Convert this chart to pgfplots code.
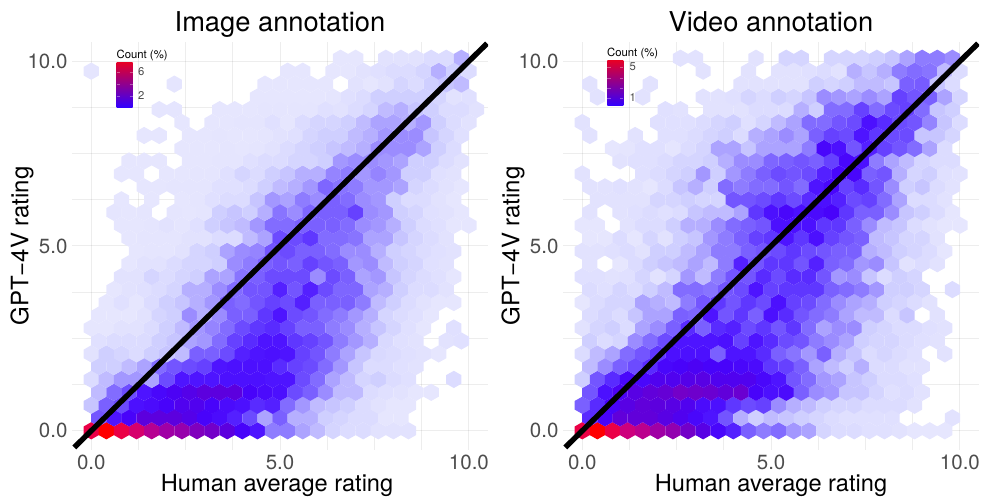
\documentclass[border=0pt]{standalone}
\usepackage{fontspec}
\setmainfont{TeX Gyre Heros}
\usepackage{pgfplots}
\pgfplotsset{compat=1.18}
\pgfdeclareplotmark{hex}{%
  \pgfpathmoveto{\pgfqpoint{0pt}{8.62pt}}%
  \pgfpathlineto{\pgfqpoint{7.62pt}{4.3pt}}%
  \pgfpathlineto{\pgfqpoint{7.62pt}{-4.3pt}}%
  \pgfpathlineto{\pgfqpoint{0pt}{-8.62pt}}%
  \pgfpathlineto{\pgfqpoint{-7.62pt}{-4.3pt}}%
  \pgfpathlineto{\pgfqpoint{-7.62pt}{4.3pt}}%
  \pgfpathclose\pgfusepathqfill}
\definecolor{barlo}{RGB}{50,0,255}
\definecolor{barhi}{RGB}{228,0,40}
\definecolor{ticktxt}{RGB}{77,77,77}
\pgfplotsset{
  colormap={hexc}{rgb255(0pt)=(240,240,255) rgb255(12pt)=(230,230,254) rgb255(20pt)=(220,220,255) rgb255(30pt)=(207,207,255) rgb255(40pt)=(192,187,255) rgb255(50pt)=(172,163,255) rgb255(60pt)=(155,140,255) rgb255(80pt)=(130,108,255) rgb255(100pt)=(115,85,255) rgb255(130pt)=(95,55,255) rgb255(160pt)=(78,20,255) rgb255(200pt)=(72,3,250) rgb255(250pt)=(92,0,222) rgb255(300pt)=(115,0,200) rgb255(400pt)=(160,0,165) rgb255(500pt)=(205,0,125) rgb255(600pt)=(235,0,70) rgb255(700pt)=(255,0,0)},
  hexframe/.style={anchor=south west, scale only axis, width=416pt, height=408pt,
    xmin=-0.51, xmax=10.505, ymin=-0.52, ymax=10.52},
  hexpanel/.style={hexframe,
    colormap name=hexc, point meta min=0, point meta max=7,
    axis on top, axis line style={draw=none}, major tick length=0pt,
    xtick={0,1.25,2.5,3.75,5,6.25,7.5,8.75,10}, ytick={0,1.25,2.5,3.75,5,6.25,7.5,8.75,10},
    xticklabels={0.0,,,,5.0,,,,10.0}, yticklabels={0.0,,,,5.0,,,,10.0},
    grid=major, grid style={black, opacity=0.07, line width=1pt},
    tick label style={text=ticktxt, font=\fontsize{20.5}{24}\selectfont},
    xticklabel style={yshift=-1pt}, yticklabel style={xshift=-1pt},
    x label style={font=\fontsize{23.6}{28}\selectfont},
    y label style={font=\fontsize{24}{28}\selectfont, at={(axis description cs:-0.12,0.5)}, anchor=center, rotate=0},
    title style={font=\fontsize{27.3}{32}\selectfont, at={(axis description cs:0.5,1.0098)}, anchor=base},
    xlabel={Human average rating}, ylabel={GPT−4V rating},
  },
  hx/.style={scatter, only marks, mark=hex, point meta=explicit, scatter/use mapped color={draw=none, fill=mapped color}},
  diag/.style={black, line width=5.4pt, line cap=butt},
}
\begin{document}
\begin{tikzpicture}[x=1pt,y=1pt]
\path[use as bounding box] (0,0) rectangle (981,500);
\begin{axis}[hexpanel, at={(72pt,50pt)}, title={Image annotation}, x label style={at={(axis description cs:0.493,-0.086)}, anchor=center}]
\addplot[hx] coordinates {
(0,0)[6](.4,0)[7](.8,0)[6](1.2,0)[5.3](1.6,0)[4.5](2,0)[4](2.4,0)[3.8](2.8,0)[3.3](3.2,0)[3](3.6,0)[2.5](4,0)[2](4.4,0)[1.6](4.8,0)[.7](5.2,0)[.7](5.6,0)[.5](6,0)[.4](6.4,0)[.25](6.8,0)[.2](7.2,0)[.2](7.6,0)[.15](8,0)[.15](8.4,0)[.15]
(.2,.35)[1](.6,.35)[1.6](1,.35)[2](1.4,.35)[2.5](1.8,.35)[2.5](2.2,.35)[2.5](2.6,.35)[2.3](3,.35)[2](3.4,.35)[1.8](3.8,.35)[1.5](4.2,.35)[1.1](4.6,.35)[.5](5,.35)[.9](5.4,.35)[.45](5.8,.35)[.45](6.2,.35)[.3](6.6,.35)[.25](7,.35)[.2](7.4,.35)[.2](7.8,.35)[.12](8.2,.35)[.12]
(0,.69)[.35](.4,.69)[.9](.8,.69)[1.1](1.2,.69)[1.7](1.6,.69)[1.8](2,.69)[2](2.4,.69)[2.2](2.8,.69)[2.2](3.2,.69)[2](3.6,.69)[1.8](4,.69)[1.7](4.4,.69)[1.4](4.8,.69)[1.5](5.2,.69)[.8](5.6,.69)[.55](6,.69)[.4](6.4,.69)[.35](6.8,.69)[.3](7.2,.69)[.2](7.6,.69)[.15](8,.69)[.12](8.4,.69)[.12]
(.2,1.04)[.4](.6,1.04)[.8](1,1.04)[1.1](1.4,1.04)[1.6](1.8,1.04)[1.9](2.2,1.04)[2.1](2.6,1.04)[2.3](3,1.04)[2.5](3.4,1.04)[2.5](3.8,1.04)[2.5](4.2,1.04)[2](4.6,1.04)[1.8](5,1.04)[1.7](5.4,1.04)[1.1](5.8,1.04)[.9](6.2,1.04)[.6](6.6,1.04)[.4](7,1.04)[.4](7.4,1.04)[.2](7.8,1.04)[.17](8.2,1.04)[.15](8.6,1.04)[.12](9,1.04)[.12]
(0,1.39)[.2](.4,1.39)[.4](.8,1.39)[.55](1.2,1.39)[.55](1.6,1.39)[.5](2,1.39)[1.1](2.4,1.39)[1.6](2.8,1.39)[1.6](3.2,1.39)[1.6](3.6,1.39)[1.7](4,1.39)[1.7](4.4,1.39)[1.7](4.8,1.39)[1.6](5.2,1.39)[1.6](5.6,1.39)[1.1](6,1.39)[.8](6.4,1.39)[.5](6.8,1.39)[.4](7.2,1.39)[.25](7.6,1.39)[.3](8,1.39)[.2](8.4,1.39)[.17](9.6,1.39)[.2]
(.2,1.74)[.3](.6,1.74)[.3](1,1.74)[.4](1.4,1.74)[.5](1.8,1.74)[.8](2.2,1.74)[1](2.6,1.74)[1.1](3,1.74)[1.2](3.4,1.74)[1.6](3.8,1.74)[1.7](4.2,1.74)[1.7](4.6,1.74)[1.7](5,1.74)[1.4](5.4,1.74)[1.2](5.8,1.74)[1.1](6.2,1.74)[.8](6.6,1.74)[.55](7,1.74)[.35](7.4,1.74)[.2](7.8,1.74)[.2](8.2,1.74)[.17](8.6,1.74)[.15]
(0,2.08)[.15](.4,2.08)[.3](.8,2.08)[.25](1.2,2.08)[.2](1.6,2.08)[.3](2,2.08)[.35](2.4,2.08)[.4](2.8,2.08)[.9](3.2,2.08)[.9](3.6,2.08)[1.1](4,2.08)[1.5](4.4,2.08)[1.6](4.8,2.08)[1.7](5.2,2.08)[1.6](5.6,2.08)[1.2](6,2.08)[1](6.4,2.08)[.7](6.8,2.08)[.5](7.2,2.08)[.35](7.6,2.08)[.22](8,2.08)[.2](8.4,2.08)[.17](8.8,2.08)[.15](9.2,2.08)[.12]
(.2,2.43)[.17](.6,2.43)[.2](1,2.43)[.2](1.4,2.43)[.2](1.8,2.43)[.3](2.2,2.43)[.35](2.6,2.43)[.5](3,2.43)[.55](3.4,2.43)[.8](3.8,2.43)[1.2](4.2,2.43)[1.4](4.6,2.43)[1.6](5,2.43)[1.6](5.4,2.43)[1.3](5.8,2.43)[1.2](6.2,2.43)[1](6.6,2.43)[.7](7,2.43)[.55](7.4,2.43)[.45](7.8,2.43)[.22](8.2,2.43)[.17](8.6,2.43)[.15](9.4,2.43)[.15](9.8,2.43)[.17]
(0,2.78)[.12](.4,2.78)[.12](.8,2.78)[.15](1.2,2.78)[.15](1.6,2.78)[.2](2,2.78)[.3](2.4,2.78)[.4](2.8,2.78)[.55](3.2,2.78)[.65](3.6,2.78)[.8](4,2.78)[1.1](4.4,2.78)[1.3](4.8,2.78)[1.4](5.2,2.78)[1.2](5.6,2.78)[.9](6,2.78)[.9](6.4,2.78)[.7](6.8,2.78)[.6](7.2,2.78)[.45](7.6,2.78)[.35](8,2.78)[.25](8.4,2.78)[.17](8.8,2.78)[.12](9.6,2.78)[.17]
(.2,3.13)[.12](.6,3.13)[.12](1,3.13)[.12](1.4,3.13)[.15](1.8,3.13)[.25](2.2,3.13)[.3](2.6,3.13)[.6](3,3.13)[.45](3.4,3.13)[.6](3.8,3.13)[.9](4.2,3.13)[.9](4.6,3.13)[1.3](5,3.13)[1.6](5.4,3.13)[1.1](5.8,3.13)[1](6.2,3.13)[.8](6.6,3.13)[.7](7,3.13)[.55](7.4,3.13)[.45](7.8,3.13)[.25](8.2,3.13)[.2](8.6,3.13)[.17](9,3.13)[.12]
(.4,3.47)[.12](.8,3.47)[.17](1.2,3.47)[.12](1.6,3.47)[.2](2,3.47)[.3](2.4,3.47)[.35](2.8,3.47)[.45](3.2,3.47)[.55](3.6,3.47)[.9](4,3.47)[.8](4.4,3.47)[1](4.8,3.47)[1.2](5.2,3.47)[1.1](5.6,3.47)[1.5](6,3.47)[.9](6.4,3.47)[.9](6.8,3.47)[.9](7.2,3.47)[.7](7.6,3.47)[.4](8,3.47)[.3](8.4,3.47)[.2](8.8,3.47)[.15](9.2,3.47)[.12](9.6,3.47)[.12]
(.6,3.82)[.12](1,3.82)[.15](1.4,3.82)[.17](1.8,3.82)[.2](2.2,3.82)[.25](2.6,3.82)[.45](3,3.82)[.45](3.4,3.82)[.6](3.8,3.82)[.8](4.2,3.82)[1](4.6,3.82)[1](5,3.82)[1.5](5.4,3.82)[1](5.8,3.82)[1.5](6.2,3.82)[1.1](6.6,3.82)[.85](7,3.82)[.85](7.4,3.82)[.5](7.8,3.82)[.45](8.2,3.82)[.3](8.6,3.82)[.2](9,3.82)[.2](9.4,3.82)[.15]
(.8,4.17)[.15](1.2,4.17)[.15](1.6,4.17)[.25](2,4.17)[.2](2.4,4.17)[.25](2.8,4.17)[.3](3.2,4.17)[.5](3.6,4.17)[.5](4,4.17)[.75](4.4,4.17)[.9](4.8,4.17)[1.1](5.2,4.17)[1.1](5.6,4.17)[1.1](6,4.17)[.6](6.4,4.17)[1.1](6.8,4.17)[.9](7.2,4.17)[.5](7.6,4.17)[.55](8,4.17)[.35](8.4,4.17)[.25](8.8,4.17)[.2](9.2,4.17)[.17](9.6,4.17)[.12]
(1,4.52)[.12](1.4,4.52)[.15](1.8,4.52)[.15](2.2,4.52)[.2](2.6,4.52)[.25](3,4.52)[.25](3.4,4.52)[.3](3.8,4.52)[.6](4.2,4.52)[.7](4.6,4.52)[.9](5,4.52)[1](5.4,4.52)[.9](5.8,4.52)[1.2](6.2,4.52)[1](6.6,4.52)[.9](7,4.52)[.55](7.4,4.52)[.6](7.8,4.52)[.4](8.2,4.52)[.3](8.6,4.52)[.25](9,4.52)[.17](9.4,4.52)[.15]
(1.2,4.86)[.12](1.6,4.86)[.13](2,4.86)[.13](2.4,4.86)[.15](2.8,4.86)[.25](3.2,4.86)[.3](3.6,4.86)[.5](4,4.86)[.6](4.4,4.86)[.65](4.8,4.86)[1](5.2,4.86)[1.1](5.6,4.86)[.9](6,4.86)[.9](6.4,4.86)[.8](6.8,4.86)[.6](7.2,4.86)[.6](7.6,4.86)[.45](8,4.86)[.3](8.4,4.86)[.25](8.8,4.86)[.2](9.2,4.86)[.17](9.6,4.86)[.15]
(1,5.21)[.12](1.4,5.21)[.13](1.8,5.21)[.13](2.2,5.21)[.13](2.6,5.21)[.15](3,5.21)[.15](3.4,5.21)[.2](3.8,5.21)[.2](4.2,5.21)[.4](4.6,5.21)[.5](5,5.21)[1.1](5.4,5.21)[1.1](5.8,5.21)[1.3](6.2,5.21)[.8](6.6,5.21)[.8](7,5.21)[.75](7.4,5.21)[.5](7.8,5.21)[.5](8.2,5.21)[.35](8.6,5.21)[.25](9,5.21)[.2](9.4,5.21)[.15]
(.8,5.56)[.12](1.2,5.56)[.12](1.6,5.56)[.13](2,5.56)[.15](2.4,5.56)[.13](2.8,5.56)[.17](3.2,5.56)[.3](3.6,5.56)[.35](4,5.56)[.4](4.4,5.56)[.55](4.8,5.56)[.8](5.2,5.56)[.8](5.6,5.56)[.9](6,5.56)[.9](6.4,5.56)[.9](6.8,5.56)[.8](7.2,5.56)[.6](7.6,5.56)[.55](8,5.56)[.45](8.4,5.56)[.3](8.8,5.56)[.2](9.2,5.56)[.17](9.6,5.56)[.12](10,5.56)[.12]
(.6,5.91)[.13](1,5.91)[.12](1.4,5.91)[.13](2.2,5.91)[.13](2.6,5.91)[.12](3,5.91)[.13](3.4,5.91)[.3](3.8,5.91)[.35](4.2,5.91)[.3](4.6,5.91)[.45](5,5.91)[.75](5.4,5.91)[.6](5.8,5.91)[.85](6.2,5.91)[.9](6.6,5.91)[.9](7,5.91)[1.2](7.4,5.91)[.6](7.8,5.91)[.55](8.2,5.91)[.3](8.6,5.91)[.25](9,5.91)[.17](9.4,5.91)[.15](9.8,5.91)[.12]
(.8,6.25)[.12](1.6,6.25)[.12](2.4,6.25)[.12](2.8,6.25)[.13](3.2,6.25)[.17](3.6,6.25)[.2](4,6.25)[.2](4.4,6.25)[.35](4.8,6.25)[.55](5.2,6.25)[.5](5.6,6.25)[.7](6,6.25)[.6](6.4,6.25)[.9](6.8,6.25)[.8](7.2,6.25)[.6](7.6,6.25)[.55](8,6.25)[.3](8.4,6.25)[.2](8.8,6.25)[.2](9.2,6.25)[.15](9.6,6.25)[.12]
(1.4,6.6)[.12](1.8,6.6)[.12](2.2,6.6)[.13](2.6,6.6)[.13](3,6.6)[.13](3.4,6.6)[.17](3.8,6.6)[.17](4.2,6.6)[.2](4.6,6.6)[.3](5,6.6)[.4](5.4,6.6)[.45](5.8,6.6)[.55](6.2,6.6)[.85](6.6,6.6)[.75](7,6.6)[.7](7.4,6.6)[.55](7.8,6.6)[.55](8.2,6.6)[.5](8.6,6.6)[.25](9,6.6)[.2](9.4,6.6)[.15](9.8,6.6)[.12]
(.8,6.95)[.12](1.2,6.95)[.12](2,6.95)[.12](2.4,6.95)[.12](2.8,6.95)[.13](3.2,6.95)[.13](3.6,6.95)[.17](4,6.95)[.25](4.4,6.95)[.2](4.8,6.95)[.3](5.2,6.95)[.35](5.6,6.95)[.45](6,6.95)[.45](6.4,6.95)[.65](6.8,6.95)[.7](7.2,6.95)[.55](7.6,6.95)[.65](8,6.95)[.55](8.4,6.95)[.3](8.8,6.95)[.3](9.2,6.95)[.17](9.6,6.95)[.15]
(1,7.3)[.12](1.4,7.3)[.12](1.8,7.3)[.12](2.6,7.3)[.12](3,7.3)[.12](3.4,7.3)[.13](3.8,7.3)[.13](4.2,7.3)[.17](4.6,7.3)[.2](5,7.3)[.2](5.4,7.3)[.25](5.8,7.3)[.25](6.2,7.3)[.3](6.6,7.3)[.55](7,7.3)[.6](7.4,7.3)[.6](7.8,7.3)[.55](8.2,7.3)[.5](8.6,7.3)[.3](9,7.3)[.3](9.4,7.3)[.2](9.8,7.3)[.15]
(2.4,7.64)[.12](2.8,7.64)[.12](3.2,7.64)[.12](3.6,7.64)[.13](4,7.64)[.12](4.4,7.64)[.13](4.8,7.64)[.15](5.2,7.64)[.2](5.6,7.64)[.25](6,7.64)[.3](6.4,7.64)[.35](6.8,7.64)[.4](7.2,7.64)[.45](7.6,7.64)[.6](8,7.64)[.6](8.4,7.64)[.6](8.8,7.64)[.5](9.2,7.64)[.3](9.6,7.64)[.2]
(1.4,7.99)[.12](1.8,7.99)[.12](2.6,7.99)[.12](3,7.99)[.12](3.4,7.99)[.13](3.8,7.99)[.12](4.2,7.99)[.12](4.6,7.99)[.13](5,7.99)[.15](5.4,7.99)[.17](5.8,7.99)[.25](6.2,7.99)[.3](6.6,7.99)[.3](7,7.99)[.4](7.4,7.99)[.45](7.8,7.99)[.55](8.2,7.99)[.6](8.6,7.99)[.6](9,7.99)[.35](9.4,7.99)[.25](9.8,7.99)[.17]
(2.4,8.34)[.12](3.2,8.34)[.12](3.6,8.34)[.12](4,8.34)[.13](4.4,8.34)[.13](4.8,8.34)[.17](5.2,8.34)[.12](5.6,8.34)[.2](6,8.34)[.25](6.4,8.34)[.25](6.8,8.34)[.3](7.2,8.34)[.4](7.6,8.34)[.5](8,8.34)[.5](8.4,8.34)[.45](8.8,8.34)[.55](9.2,8.34)[.3](9.6,8.34)[.2](10,8.34)[.15]
(1.8,8.69)[.13](2.2,8.69)[.13](3.4,8.69)[.12](3.8,8.69)[.12](4.2,8.69)[.12](4.6,8.69)[.13](5,8.69)[.13](5.4,8.69)[.13](5.8,8.69)[.13](6.2,8.69)[.17](6.6,8.69)[.15](7,8.69)[.2](7.4,8.69)[.25](7.8,8.69)[.4](8.2,8.69)[.45](8.6,8.69)[.35](9,8.69)[.3](9.4,8.69)[.2](9.8,8.69)[.2](10.2,8.69)[.15]
(4.4,9.03)[.12](4.8,9.03)[.12](5.2,9.03)[.12](5.6,9.03)[.12](6,9.03)[.12](6.4,9.03)[.13](6.8,9.03)[.17](7.2,9.03)[.2](7.6,9.03)[.3](8,9.03)[.3](8.4,9.03)[.3](8.8,9.03)[.3](9.2,9.03)[.25](9.6,9.03)[.15](10,9.03)[.17]
(2.2,9.38)[.13](4.6,9.38)[.12](5,9.38)[.12](5.4,9.38)[.12](5.8,9.38)[.12](6.2,9.38)[.12](7,9.38)[.15](7.4,9.38)[.12](7.8,9.38)[.15](8.2,9.38)[.25](8.6,9.38)[.2](9,9.38)[.3](9.4,9.38)[.35](9.8,9.38)[.4]
(0,9.73)[.13](5.2,9.73)[.12](5.6,9.73)[.12](6.4,9.73)[.12](6.8,9.73)[.12](7.2,9.73)[.15](7.6,9.73)[.17](8,9.73)[.2](8.4,9.73)[.2](8.8,9.73)[.25](9.2,9.73)[.45](9.6,9.73)[.3](10,9.73)[.2]
(6.6,10.08)[.12](7,10.08)[.12](7.8,10.08)[.15](8.2,10.08)[.15](8.6,10.08)[.15](9,10.08)[.2](9.4,10.08)[.2](9.8,10.08)[.45]
};
\end{axis}
\begin{axis}[hexframe, hide axis, at={(72pt,50pt)}]
\addplot[diag] coordinates {(-0.45,-0.45)(10.48,10.48)};
\end{axis}
\begin{axis}[hexpanel, at={(563pt,50pt)}, title={Video annotation}, x label style={at={(axis description cs:0.5,-0.086)}, anchor=center}]
\addplot[hx] coordinates {
(0,0)[6](.4,0)[7](.8,0)[6](1.2,0)[5](1.6,0)[4.6](2,0)[4](2.4,0)[3.7](2.8,0)[3](3.2,0)[2.4](3.6,0)[1.9](4,0)[1.5](4.4,0)[.9](4.8,0)[.7](5.2,0)[.8](5.6,0)[.55](6,0)[.5](6.4,0)[.25](6.8,0)[.2](7.2,0)[.2](7.6,0)[.17](8,0)[.17](8.4,0)[.15](8.8,0)[.12](9.2,0)[.12](9.6,0)[.12]
(.2,.35)[1.4](.6,.35)[2](1,.35)[2.6](1.4,.35)[2.6](1.8,.35)[2.6](2.2,.35)[2.4](2.6,.35)[2.2](3,.35)[1.9](3.4,.35)[1.6](3.8,.35)[1](4.2,.35)[.45](4.6,.35)[.3](5,.35)[.4](5.4,.35)[.35](5.8,.35)[.3](6.2,.35)[.25](6.6,.35)[.2](7,.35)[.17](7.4,.35)[.17](7.8,.35)[.17](8.2,.35)[.17](9.8,.35)[.15]
(0,.69)[.9](.4,.69)[1.4](.8,.69)[2](1.2,.69)[2.4](1.6,.69)[2.6](2,.69)[2.5](2.4,.69)[2.4](2.8,.69)[2.2](3.2,.69)[1.8](3.6,.69)[1.7](4,.69)[1.3](4.4,.69)[1.1](4.8,.69)[1.2](5.2,.69)[.6](5.6,.69)[.45](6,.69)[.4](6.4,.69)[.3](6.8,.69)[.25](7.2,.69)[.25](7.6,.69)[.2](8,.69)[.2](8.4,.69)[.2](8.8,.69)[.15]
(.2,1.04)[1](.6,1.04)[1.7](1,1.04)[2.1](1.4,1.04)[2.4](1.8,1.04)[2.6](2.2,1.04)[2.7](2.6,1.04)[3](3,1.04)[2.9](3.4,1.04)[2.8](3.8,1.04)[2.6](4.2,1.04)[2.8](4.6,1.04)[2](5,1.04)[1.7](5.4,1.04)[1.8](5.8,1.04)[.9](6.2,1.04)[.6](6.6,1.04)[.55](7,1.04)[.35](7.4,1.04)[.35](7.8,1.04)[.25](8.2,1.04)[.17](8.6,1.04)[.2](9,1.04)[.15]
(0,1.39)[.3](.4,1.39)[1](.8,1.39)[1.4](1.2,1.39)[1.9](1.6,1.39)[1.9](2,1.39)[2.2](2.4,1.39)[2.2](2.8,1.39)[2.3](3.2,1.39)[2.4](3.6,1.39)[2.2](4,1.39)[2.2](4.4,1.39)[2.2](4.8,1.39)[1.9](5.2,1.39)[1.6](5.6,1.39)[1](6,1.39)[.8](6.4,1.39)[.55](6.8,1.39)[.5](7.2,1.39)[.35](7.6,1.39)[.3](8,1.39)[.2](8.4,1.39)[.2](8.8,1.39)[.17]
(.2,1.74)[.4](.6,1.74)[.6](1,1.74)[.9](1.4,1.74)[1.1](1.8,1.74)[1.4](2.2,1.74)[1.9](2.6,1.74)[2](3,1.74)[2.1](3.4,1.74)[2](3.8,1.74)[2](4.2,1.74)[1.9](4.6,1.74)[1.8](5,1.74)[1.3](5.4,1.74)[1.2](5.8,1.74)[.9](6.2,1.74)[.5](6.6,1.74)[.4](7,1.74)[.3](7.4,1.74)[.45](7.8,1.74)[.2](8.2,1.74)[.2](8.6,1.74)[.15](9,1.74)[.15]
(0,2.08)[.2](.4,2.08)[.4](.8,2.08)[.5](1.2,2.08)[.8](1.6,2.08)[1](2,2.08)[1.3](2.4,2.08)[1.7](2.8,2.08)[1.7](3.2,2.08)[1.7](3.6,2.08)[.9](4,2.08)[1.6](4.4,2.08)[1.6](4.8,2.08)[1.4](5.2,2.08)[.9](5.6,2.08)[.75](6,2.08)[.55](6.4,2.08)[.9](6.8,2.08)[.45](7.2,2.08)[.35](7.6,2.08)[.2](8,2.08)[.25](8.4,2.08)[.2](8.8,2.08)[.17](9.6,2.08)[.15]
(.2,2.43)[.3](.6,2.43)[.2](1,2.43)[.25](1.4,2.43)[.6](1.8,2.43)[.8](2.2,2.43)[1.1](2.6,2.43)[1.6](3,2.43)[1.6](3.4,2.43)[1.6](3.8,2.43)[1.7](4.2,2.43)[1.2](4.6,2.43)[1.6](5,2.43)[1.4](5.4,2.43)[1.1](5.8,2.43)[1](6.2,2.43)[.7](6.6,2.43)[.6](7,2.43)[.5](7.4,2.43)[.3](7.8,2.43)[.25](8.2,2.43)[.25](8.6,2.43)[.2](9,2.43)[.17](9.4,2.43)[.15]
(0,2.78)[.15](.4,2.78)[.25](.8,2.78)[.3](1.2,2.78)[.2](1.6,2.78)[.5](2,2.78)[.6](2.4,2.78)[.9](2.8,2.78)[1.4](3.2,2.78)[.9](3.6,2.78)[1.4](4,2.78)[1.5](4.4,2.78)[1.1](4.8,2.78)[1.3](5.2,2.78)[1](5.6,2.78)[1.3](6,2.78)[.8](6.4,2.78)[.5](6.8,2.78)[.6](7.2,2.78)[.6](7.6,2.78)[.3](8,2.78)[.25](8.4,2.78)[.2](8.8,2.78)[.2](9.2,2.78)[.17](9.6,2.78)[.15]
(.2,3.13)[.2](.6,3.13)[.25](1,3.13)[.2](1.4,3.13)[.35](1.8,3.13)[.5](2.2,3.13)[.5](2.6,3.13)[.9](3,3.13)[.85](3.4,3.13)[1.6](3.8,3.13)[1](4.2,3.13)[1.3](4.6,3.13)[.9](5,3.13)[1.7](5.4,3.13)[1.4](5.8,3.13)[1](6.2,3.13)[.8](6.6,3.13)[.7](7,3.13)[.5](7.4,3.13)[.4](7.8,3.13)[.4](8.2,3.13)[.2](8.6,3.13)[.35](9.4,3.13)[.15]
(0,3.47)[.12](.4,3.47)[.2](.8,3.47)[.25](1.2,3.47)[.25](1.6,3.47)[.5](2,3.47)[.45](2.4,3.47)[.4](2.8,3.47)[.7](3.2,3.47)[1](3.6,3.47)[1.3](4,3.47)[1](4.4,3.47)[1.3](4.8,3.47)[1.1](5.2,3.47)[1.7](5.6,3.47)[1.2](6,3.47)[1.1](6.4,3.47)[.8](6.8,3.47)[.6](7.2,3.47)[.5](7.6,3.47)[.45](8,3.47)[.3](8.4,3.47)[.25](8.8,3.47)[.2](9.2,3.47)[.15]
(.2,3.82)[.2](.6,3.82)[.17](1,3.82)[.25](1.4,3.82)[.2](1.8,3.82)[.3](2.2,3.82)[.4](2.6,3.82)[.8](3,3.82)[.8](3.4,3.82)[.75](3.8,3.82)[1](4.2,3.82)[1.1](4.6,3.82)[1.6](5,3.82)[1.2](5.4,3.82)[1.3](5.8,3.82)[1.3](6.2,3.82)[1.3](6.6,3.82)[.9](7,3.82)[.8](7.4,3.82)[.7](7.8,3.82)[.55](8.2,3.82)[.3](8.6,3.82)[.3](9,3.82)[.25](9.8,3.82)[.2]
(0,4.17)[.17](.4,4.17)[.17](.8,4.17)[.15](1.2,4.17)[.17](1.6,4.17)[.25](2,4.17)[.15](2.4,4.17)[.25](2.8,4.17)[.55](3.2,4.17)[.4](3.6,4.17)[.7](4,4.17)[1](4.4,4.17)[1](4.8,4.17)[1.4](5.2,4.17)[1.1](5.6,4.17)[1.4](6,4.17)[1.4](6.4,4.17)[1](6.8,4.17)[.55](7.2,4.17)[.6](7.6,4.17)[.35](8,4.17)[.2](8.4,4.17)[.3](8.8,4.17)[.25]
(.2,4.52)[.15](1,4.52)[.12](1.4,4.52)[.2](1.8,4.52)[.3](2.2,4.52)[.35](2.6,4.52)[.4](3,4.52)[.5](3.4,4.52)[.4](3.8,4.52)[.7](4.2,4.52)[1.5](4.6,4.52)[1](5,4.52)[1.3](5.4,4.52)[1.3](5.8,4.52)[1](6.2,4.52)[1.5](6.6,4.52)[.9](7,4.52)[.8](7.4,4.52)[.55](7.8,4.52)[.6](8.2,4.52)[.35](8.6,4.52)[.15](9,4.52)[.2](9.4,4.52)[.15]
(0,4.86)[.15](.4,4.86)[.15](.8,4.86)[.17](1.2,4.86)[.2](1.6,4.86)[.15](2,4.86)[.3](2.4,4.86)[.3](2.8,4.86)[.4](3.2,4.86)[.5](3.6,4.86)[.7](4,4.86)[.7](4.4,4.86)[.9](4.8,4.86)[1](5.2,4.86)[1.1](5.6,4.86)[1.3](6,4.86)[1.1](6.4,4.86)[1](6.8,4.86)[.9](7.2,4.86)[.9](7.6,4.86)[.45](8,4.86)[.4](8.4,4.86)[.3](8.8,4.86)[.25](9.2,4.86)[.2](9.6,4.86)[.12]
(.2,5.21)[.12](.6,5.21)[.12](1,5.21)[.2](1.4,5.21)[.12](1.8,5.21)[.25](2.2,5.21)[.15](2.6,5.21)[.3](3,5.21)[.35](3.4,5.21)[.55](3.8,5.21)[.7](4.2,5.21)[.9](4.6,5.21)[1.2](5,5.21)[1.3](5.4,5.21)[1.6](5.8,5.21)[1.3](6.2,5.21)[1.7](6.6,5.21)[1.2](7,5.21)[1](7.4,5.21)[.9](7.8,5.21)[.4](8.2,5.21)[.35](8.6,5.21)[.25](9,5.21)[.25](9.4,5.21)[.15]
(0,5.56)[.12](.4,5.56)[.12](1.2,5.56)[.15](1.6,5.56)[.2](2,5.56)[.2](2.4,5.56)[.3](2.8,5.56)[.45](3.2,5.56)[.45](3.6,5.56)[.6](4,5.56)[.8](4.4,5.56)[.9](4.8,5.56)[1](5.2,5.56)[1.7](5.6,5.56)[1.7](6,5.56)[1.7](6.4,5.56)[1.3](6.8,5.56)[1.3](7.2,5.56)[.9](7.6,5.56)[.6](8,5.56)[.4](8.4,5.56)[.35](8.8,5.56)[.2](9.2,5.56)[.15](9.6,5.56)[.12](10,5.56)[.12]
(.2,5.91)[.15](1,5.91)[.15](1.4,5.91)[.17](1.8,5.91)[.2](2.2,5.91)[.17](2.6,5.91)[.2](3,5.91)[.35](3.4,5.91)[.4](3.8,5.91)[.4](4.2,5.91)[.5](4.6,5.91)[1.3](5,5.91)[1.7](5.4,5.91)[1.9](5.8,5.91)[1.7](6.2,5.91)[1.8](6.6,5.91)[2](7,5.91)[1.3](7.4,5.91)[.9](7.8,5.91)[.9](8.2,5.91)[.6](8.6,5.91)[.35](9,5.91)[.3](9.4,5.91)[.2](9.8,5.91)[.12]
(.4,6.25)[.15](.8,6.25)[.15](1.2,6.25)[.15](1.6,6.25)[.15](2,6.25)[.25](2.4,6.25)[.25](2.8,6.25)[.3](3.2,6.25)[.25](3.6,6.25)[.25](4,6.25)[1](4.4,6.25)[1](4.8,6.25)[1.1](5.2,6.25)[1.3](5.6,6.25)[1.1](6,6.25)[1.4](6.4,6.25)[1.7](6.8,6.25)[1.5](7.2,6.25)[1.1](7.6,6.25)[1.2](8,6.25)[.8](8.4,6.25)[.5](8.8,6.25)[.2](9.2,6.25)[.2](9.6,6.25)[.15]
(.2,6.6)[.15](.6,6.6)[.15](1,6.6)[.17](1.4,6.6)[.15](1.8,6.6)[.12](2.2,6.6)[.2](2.6,6.6)[.35](3,6.6)[.45](3.4,6.6)[.3](3.8,6.6)[.8](4.2,6.6)[.7](4.6,6.6)[.8](5,6.6)[.8](5.4,6.6)[1](5.8,6.6)[.8](6.2,6.6)[1.6](6.6,6.6)[1.9](7,6.6)[1.2](7.4,6.6)[1.4](7.8,6.6)[1](8.2,6.6)[.6](8.6,6.6)[.3](9,6.6)[.35](9.4,6.6)[.2](9.8,6.6)[.15]
(0,6.95)[.15](1.6,6.95)[.17](2,6.95)[.2](2.4,6.95)[.25](2.8,6.95)[.3](3.2,6.95)[.55](3.6,6.95)[.3](4,6.95)[.55](4.4,6.95)[.7](4.8,6.95)[.9](5.2,6.95)[1.1](5.6,6.95)[1](6,6.95)[1.1](6.4,6.95)[1.5](6.8,6.95)[1.9](7.2,6.95)[1.9](7.6,6.95)[.9](8,6.95)[1](8.4,6.95)[.45](8.8,6.95)[.25](9.2,6.95)[.3](9.6,6.95)[.17](10,6.95)[.15]
(1,7.3)[.15](1.4,7.3)[.17](1.8,7.3)[.17](2.2,7.3)[.2](2.6,7.3)[.25](3,7.3)[.25](3.4,7.3)[.3](3.8,7.3)[.45](4.2,7.3)[.6](4.6,7.3)[.6](5,7.3)[.85](5.4,7.3)[.9](5.8,7.3)[1](6.2,7.3)[.9](6.6,7.3)[1.2](7,7.3)[1.9](7.4,7.3)[1.7](7.8,7.3)[.7](8.2,7.3)[.5](8.6,7.3)[.4](9,7.3)[.25](9.4,7.3)[.2](9.8,7.3)[.2]
(.8,7.64)[.12](1.2,7.64)[.13](1.6,7.64)[.17](2,7.64)[.17](2.4,7.64)[.13](2.8,7.64)[.2](3.2,7.64)[.25](3.6,7.64)[.5](4,7.64)[.5](4.4,7.64)[.35](4.8,7.64)[.5](5.2,7.64)[.5](5.6,7.64)[.5](6,7.64)[.7](6.4,7.64)[1.9](6.8,7.64)[1.7](7.2,7.64)[1](7.6,7.64)[1.5](8,7.64)[1.2](8.4,7.64)[1](8.8,7.64)[.8](9.2,7.64)[.5](9.6,7.64)[.2]
(.2,7.99)[.15](1.4,7.99)[.15](2.2,7.99)[.17](2.6,7.99)[.17](3,7.99)[.2](3.4,7.99)[.25](3.8,7.99)[.3](4.2,7.99)[.2](4.6,7.99)[.45](5,7.99)[.5](5.4,7.99)[.6](5.8,7.99)[.5](6.2,7.99)[.9](6.6,7.99)[1.2](7,7.99)[1.1](7.4,7.99)[1.6](7.8,7.99)[1.3](8.2,7.99)[1.1](8.6,7.99)[1.1](9,7.99)[.35](9.4,7.99)[.35](9.8,7.99)[.25]
(0,8.34)[.15](2,8.34)[.17](2.4,8.34)[.17](2.8,8.34)[.17](3.2,8.34)[.2](3.6,8.34)[.25](4,8.34)[.3](4.4,8.34)[.17](4.8,8.34)[.25](5.2,8.34)[.4](5.6,8.34)[.5](6,8.34)[.8](6.4,8.34)[.8](6.8,8.34)[1](7.2,8.34)[1.1](7.6,8.34)[1.7](8,8.34)[1.4](8.4,8.34)[1.1](8.8,8.34)[1](9.2,8.34)[.65](9.6,8.34)[.35](10,8.34)[.2]
(2.2,8.69)[.17](2.6,8.69)[.15](3.4,8.69)[.15](3.8,8.69)[.15](4.2,8.69)[.15](4.6,8.69)[.2](5,8.69)[.2](5.4,8.69)[.2](5.8,8.69)[.45](6.2,8.69)[.3](6.6,8.69)[.8](7,8.69)[.8](7.4,8.69)[1.2](7.8,8.69)[.8](8.2,8.69)[1.1](8.6,8.69)[1.2](9,8.69)[.8](9.4,8.69)[.35](9.8,8.69)[.3]
(.4,9.03)[.15](1.6,9.03)[.15](3.2,9.03)[.15](3.6,9.03)[.15](4,9.03)[.17](4.4,9.03)[.25](4.8,9.03)[.2](5.2,9.03)[.3](5.6,9.03)[.25](6,9.03)[.35](6.4,9.03)[.6](6.8,9.03)[.55](7.2,9.03)[.5](7.6,9.03)[.6](8,9.03)[.5](8.4,9.03)[1.2](8.8,9.03)[1](9.2,9.03)[.9](9.6,9.03)[.5](10,9.03)[.25]
(.2,9.38)[.15](1.8,9.38)[.15](4.2,9.38)[.15](4.6,9.38)[.15](5,9.38)[.15](5.4,9.38)[.15](5.8,9.38)[.15](6.2,9.38)[.3](6.6,9.38)[.25](7,9.38)[.3](7.4,9.38)[.4](7.8,9.38)[.4](8.2,9.38)[.35](8.6,9.38)[.9](9,9.38)[.95](9.4,9.38)[.35](9.8,9.38)[.2]
(3.2,9.73)[.15](4.4,9.73)[.15](5.2,9.73)[.15](5.6,9.73)[.15](6,9.73)[.17](6.4,9.73)[.2](6.8,9.73)[.15](7.2,9.73)[.45](7.6,9.73)[.35](8,9.73)[.45](8.4,9.73)[.7](8.8,9.73)[.8](9.2,9.73)[.75](9.6,9.73)[.4](10,9.73)[.2]
(2.6,10.08)[.15](3,10.08)[.15](4.6,10.08)[.15](5.4,10.08)[.25](5.8,10.08)[.25](6.6,10.08)[.25](7,10.08)[.25](7.4,10.08)[.25](7.8,10.08)[.3](8.2,10.08)[.35](8.6,10.08)[.5](9,10.08)[.7](9.4,10.08)[.7](9.8,10.08)[.6]
};
\end{axis}
\begin{axis}[hexframe, hide axis, at={(563pt,50pt)}]
\addplot[diag] coordinates {(-0.45,-0.45)(10.48,10.48)};
\end{axis}
% colour keys
\shade[bottom color=barlo, top color=barhi] (116.7,392.7) rectangle (132.7,437.3);
\foreach \yy in {404,416,428}{\draw[white,opacity=.35,line width=.4pt] (116.7,\yy)--(119.9,\yy) (129.5,\yy)--(132.7,\yy);}
\node[anchor=west,inner sep=0pt,font=\fontsize{11.3}{13}\selectfont] at (116.5,445) {Count (\%)};
\node[anchor=west,inner sep=0pt,text=ticktxt,font=\fontsize{11.3}{13}\selectfont] at (138,428) {6};
\node[anchor=west,inner sep=0pt,text=ticktxt,font=\fontsize{11.3}{13}\selectfont] at (138,404) {2};
\shade[bottom color=barlo, top color=barhi] (607.3,394.3) rectangle (623.3,439);
\foreach \yy in {402,412,422,433}{\draw[white,opacity=.35,line width=.4pt] (607.3,\yy)--(610.5,\yy) (620.1,\yy)--(623.3,\yy);}
\node[anchor=west,inner sep=0pt,font=\fontsize{11.3}{13}\selectfont] at (607,447) {Count (\%)};
\node[anchor=west,inner sep=0pt,text=ticktxt,font=\fontsize{11.3}{13}\selectfont] at (629.5,433) {5};
\node[anchor=west,inner sep=0pt,text=ticktxt,font=\fontsize{11.3}{13}\selectfont] at (629.5,402) {1};
\end{tikzpicture}
\end{document}
